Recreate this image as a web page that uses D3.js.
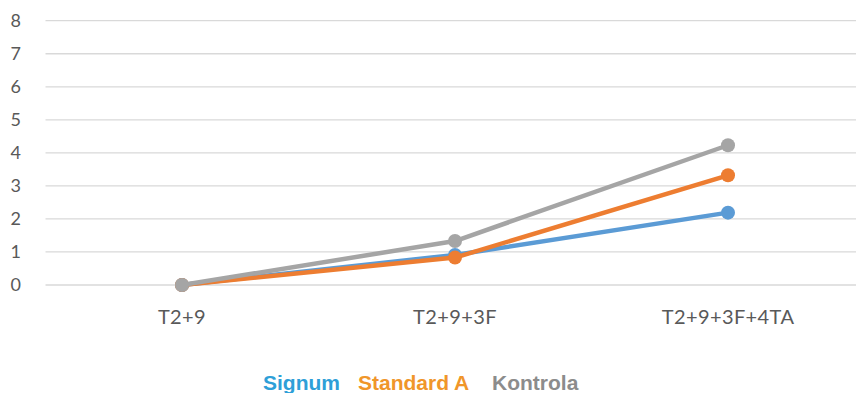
<!DOCTYPE html>
<html>
<head>
<meta charset="utf-8">
<script src="https://cdn.jsdelivr.net/npm/d3@7"></script>
<style>
  html, body { margin: 0; padding: 0; background: #fff; overflow: hidden; }
  svg { display: block; }
</style>
</head>
<body>
<svg id="chart" width="856" height="393"></svg>
<script>
// Category labels along the x axis
const categories = ["T2+9", "T2+9+3F", "T2+9+3F+4TA"];
// Series values, one per category
const signum    = [0, 0.91, 2.19];
const standardA = [0, 0.83, 3.32];
const kontrola  = [0, 1.33, 4.23];
// Y axis tick values
const yTicks = [0, 1, 2, 3, 4, 5, 6, 7, 8];

const seriesNames  = ["Signum", "Standard A", "Kontrola"];
const seriesValues = [signum, standardA, kontrola];
const lineColors   = ["#5B9BD5", "#ED7D31", "#A5A5A5"];
const legendColors = ["#2E9FD8", "#F0962A", "#8C8C8C"];

const svg = d3.select("#chart");

const x = d3.scaleBand().domain(categories).range([45.5, 864.5]);
const y = d3.scaleLinear().domain([0, 8]).range([285, 20.7]);
const cx = d => x(d) + x.bandwidth() / 2;

// Horizontal gridlines
svg.append("g")
  .selectAll("line")
  .data(yTicks)
  .join("line")
  .attr("x1", 45.5).attr("x2", 864.5)
  .attr("y1", d => y(d)).attr("y2", d => y(d))
  .attr("stroke", "#D9D9D9")
  .attr("stroke-width", 1.3);

// Y axis labels
const yAxis = d3.axisLeft(y).tickValues(yTicks).tickSize(0).tickPadding(0);
const gy = svg.append("g").attr("transform", "translate(21,0)").call(yAxis);
gy.select(".domain").remove();
gy.selectAll("text")
  .attr("fill", "#595959")
  .style("font-family", "Lato, 'Open Sans', sans-serif")
  .style("font-size", "18px");

// X axis labels
const xAxis = d3.axisBottom(x).tickSize(0).tickPadding(0);
const gx = svg.append("g").attr("transform", "translate(0,310)").call(xAxis);
gx.select(".domain").remove();
gx.selectAll("text")
  .attr("dy", "0.72em")
  .attr("fill", "#595959")
  .style("font-family", "Lato, 'Open Sans', sans-serif")
  .style("font-size", "20px")
  .style("letter-spacing", "0.4px");

// Lines and markers
const line = d3.line()
  .x((d, i) => cx(categories[i]))
  .y(d => y(d));

seriesValues.forEach((vals, s) => {
  const g = svg.append("g");
  g.append("path")
    .datum(vals)
    .attr("d", line)
    .attr("fill", "none")
    .attr("stroke", lineColors[s])
    .attr("stroke-width", 4.5)
    .attr("stroke-linejoin", "round")
    .attr("stroke-linecap", "round");
  g.selectAll("circle")
    .data(vals)
    .join("circle")
    .attr("cx", (d, i) => cx(categories[i]))
    .attr("cy", d => y(d))
    .attr("r", 7)
    .attr("fill", lineColors[s]);
});

// Legend
const legend = svg.append("g").attr("transform", "translate(263,390)");
const legendX = [0, 95, 229];
seriesNames.forEach((name, i) => {
  legend.append("text")
    .attr("x", legendX[i])
    .attr("y", 0)
    .attr("fill", legendColors[i])
    .style("font-family", "'Liberation Sans', Arial, sans-serif")
    .style("font-weight", "bold")
    .style("font-size", "21px")
    .text(name);
});
</script>
</body>
</html>
